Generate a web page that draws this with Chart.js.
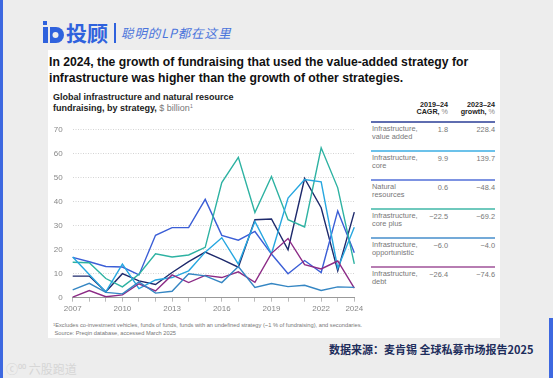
<!DOCTYPE html>
<html>
<head>
<meta charset="utf-8">
<script src="https://cdn.jsdelivr.net/npm/chart.js@4/dist/chart.umd.min.js"></script>
<style>
  body { margin: 0; width: 553px; height: 378px; overflow: hidden; background: #ededed; font-family: 'Liberation Sans', Arial, sans-serif; }
  .abs { position: absolute; white-space: nowrap; }
  #card { position: absolute; left: 48px; top: 50px; width: 452px; height: 288px; background: #fff; }
  .th { font-size: 7.2px; font-weight: bold; color: #222; text-align: right; line-height: 6.8px; }
  .th span { font-weight: normal; color: #888; }
  .rl { font-size: 7.4px; color: #777; line-height: 7.6px; }
  .rv { font-size: 7.4px; color: #777; text-align: right; }
  .sup { position: relative; top: -3px; font-size: 5px; }
</style>
</head>
<body>
<div class="abs" style="left:0;top:0;width:3px;height:378px;background:#3d68e0"></div>
<div class="abs" style="left:549px;top:318px;width:4px;height:60px;background:#3d68e0"></div>

<!-- logo -->
<svg class="abs" style="left:43px;top:21px" width="22" height="24" viewBox="0 0 22 24">
  <rect x="0" y="0" width="4" height="4" fill="#2f62dd"/>
  <rect x="0" y="6" width="5" height="16" fill="#2f62dd"/>
  <path d="M7 6 h6 a8 8 0 0 1 0 16 h-6 z" fill="#2f62dd"/>
  <circle cx="12.5" cy="14" r="3" fill="#ededed"/>
</svg>
<div class="abs" style="left:66px;top:19px;font:bold 21px 'Noto Sans CJK SC';color:#2f62dd;line-height:26px">投顾</div>
<div class="abs" style="left:114px;top:23px;width:1.5px;height:20px;background:#2f62dd"></div>
<div class="abs" style="left:121px;top:24px;font:italic 12.5px 'Noto Sans CJK SC';color:#4a74dc;letter-spacing:0.9px;line-height:18px">聪明的LP都在这里</div>

<div id="card"></div>
<div class="abs" style="left:49px;top:55px;font:bold 12.2px 'Liberation Sans',Arial,sans-serif;color:#111;line-height:15.5px">In 2024, the growth of fundraising that used the value-added strategy for<br>infrastructure was higher than the growth of other strategies.</div>

<div class="abs" style="left:53px;top:92px;font:bold 9px 'Liberation Sans',Arial,sans-serif;color:#222;line-height:10.5px">Global infrastructure and natural resource<br>fundraising, by strategy, <span style="font-weight:normal;color:#777">$ billion<span class="sup">1</span></span></div>

<canvas id="chart" class="abs" style="left:48px;top:115px" width="322" height="205"></canvas>

<div id="table"></div>

<div class="abs" style="left:53px;top:322px;font:5.7px 'Liberation Sans',Arial,sans-serif;color:#777;line-height:6.5px"><span style="font-size:4px;position:relative;top:-1.5px">1</span>Excludes co-investment vehicles, funds of funds, funds with an undefined strategy (~1 % of fundraising), and secondaries.<br>&nbsp;Source: Preqin database, accessed March 2025</div>

<div class="abs" style="left:329px;top:340px;font:bold 11px 'Noto Sans CJK SC';color:#1e2d5c;line-height:18px">数据来源：麦肯锡 全球私募市场报告2025</div>
<div class="abs" style="left:6px;top:361px;font:12px 'Noto Sans CJK SC';color:#d6d6d6;line-height:16px">ⓒ⁰⁰ 六股跑道</div>

<script>
const years = ["2007","2008","2009","2010","2011","2012","2013","2014","2015","2016","2017","2018","2019","2020","2021","2022","2023","2024"];
const shownYears = ["2007","2010","2013","2016","2019","2022","2024"];
const valueAdded    = [9, 9, 2.5, 10, 7, 5.5, 10.5, 15, 19, 16, 12.7, 32.5, 32.8, 20, 49.7, 37.5, 11.2, 35.7];
const core          = [17, 9.7, 2.4, 14, 3.8, 7.4, 8.4, 11.2, 19, 25, 14, 31.8, 18.3, 41.5, 49.3, 48.3, 12.3, 29.4];
const naturalRes    = [16.8, 15, 13, 12.8, 9.5, 26, 29.2, 29.2, 41, 26, 24, 27.6, 18.2, 10, 15.5, 10.5, 36.2, 18.7];
const corePlus      = [14.8, 14.6, 8, 4.5, 9.8, 18.3, 17, 17.8, 21, 48, 58.5, 35.5, 50.5, 32.5, 29.5, 62.5, 45.8, 14.1];
const opportunistic = [3.3, 6, 2.2, 1.6, 6.6, 1.9, 2.7, 10, 9.1, 6.3, 13, 4.3, 5.9, 4.6, 5.2, 3, 4.5, 4.3];
const debt          = [0.2, 3, 0.4, 1.2, 5.8, 2.8, 9.5, 6.3, 9.3, 8.4, 10.8, 6.4, 18.5, 24.7, 13.8, 12, 15.3, 4];

// table on the right
const strategies = [["Infrastructure,", "value added"], ["Infrastructure,", "core"], ["Natural", "resources"],
                    ["Infrastructure,", "core plus"], ["Infrastructure,", "opportunistic"], ["Infrastructure,", "debt"]];
const cagr   = ["1.8", "9.9", "0.6", "−22.5", "−6.0", "−26.4"];
const growth = ["228.4", "139.7", "−48.4", "−69.2", "−4.0", "−74.6"];
const colors = ["#1e2a6c", "#27a7e0", "#3b5ed6", "#2db2a2", "#3586c3", "#8c2b86"];
const lineColors = ["#5f6db0", "#6cc2ea", "#7d93e2", "#6fc9bd", "#74aad8", "#b77db2"];

let html = '';
html += '<div class="abs th" style="right:105px;top:102px">2019–24<br>CAGR, <span>%</span></div>';
html += '<div class="abs th" style="right:58px;top:102px">2023–24<br>growth, <span>%</span></div>';
strategies.forEach((s, i) => {
  let top = 122.3 + i * 29;
  html += `<div class="abs" style="left:371px;top:${top - 1}px;width:124px;height:2px;background:${lineColors[i]}"></div>`;
  html += `<div class="abs rl" style="left:372px;top:${top + 3}px">${s[0]}<br>${s[1]}</div>`;
  html += `<div class="abs rv" style="right:105px;top:${top + 3}px">${cagr[i]}</div>`;
  html += `<div class="abs rv" style="right:58px;top:${top + 3}px">${growth[i]}</div>`;
});
document.getElementById('table').innerHTML = html;

Chart.defaults.font.family = "'Liberation Sans', Arial, sans-serif";
const series = [opportunistic, debt, core, corePlus, naturalRes, valueAdded];
const seriesColors = [colors[4], colors[5], colors[1], colors[3], colors[2], colors[0]];

new Chart(document.getElementById('chart').getContext('2d'), {
  type: 'line',
  data: {
    labels: years,
    datasets: series.map((d, i) => ({
      data: d,
      borderColor: seriesColors[i],
      borderWidth: 1.4,
      pointRadius: 0,
      tension: 0,
      fill: false
    }))
  },
  options: {
    responsive: false,
    animation: false,
    layout: { padding: { top: 7.7, right: 15.7, left: 0, bottom: 0 } },
    plugins: { legend: { display: false }, tooltip: { enabled: false } },
    scales: {
      x: {
        afterFit: s => { s.height = 22.3; },
        grid: { drawOnChartArea: false, drawTicks: true, tickLength: 4, color: '#bbb' },
        border: { display: true, color: '#999', width: 1 },
        ticks: {
          autoSkip: false, maxRotation: 0, padding: 2,
          color: '#888', font: { size: 8 },
          callback: function (v) {
            const lab = this.getLabelForValue(v);
            return shownYears.includes(lab) ? lab : '';
          }
        }
      },
      y: {
        min: 0, max: 70,
        afterFit: s => { s.width = 24.7; },
        grid: { drawTicks: false, color: '#d4d4d4' },
        border: { display: false, dash: [1, 1.5] },
        ticks: { stepSize: 10, padding: 10, color: '#888', font: { size: 8 } }
      }
    }
  }
});
</script>
</body>
</html>
